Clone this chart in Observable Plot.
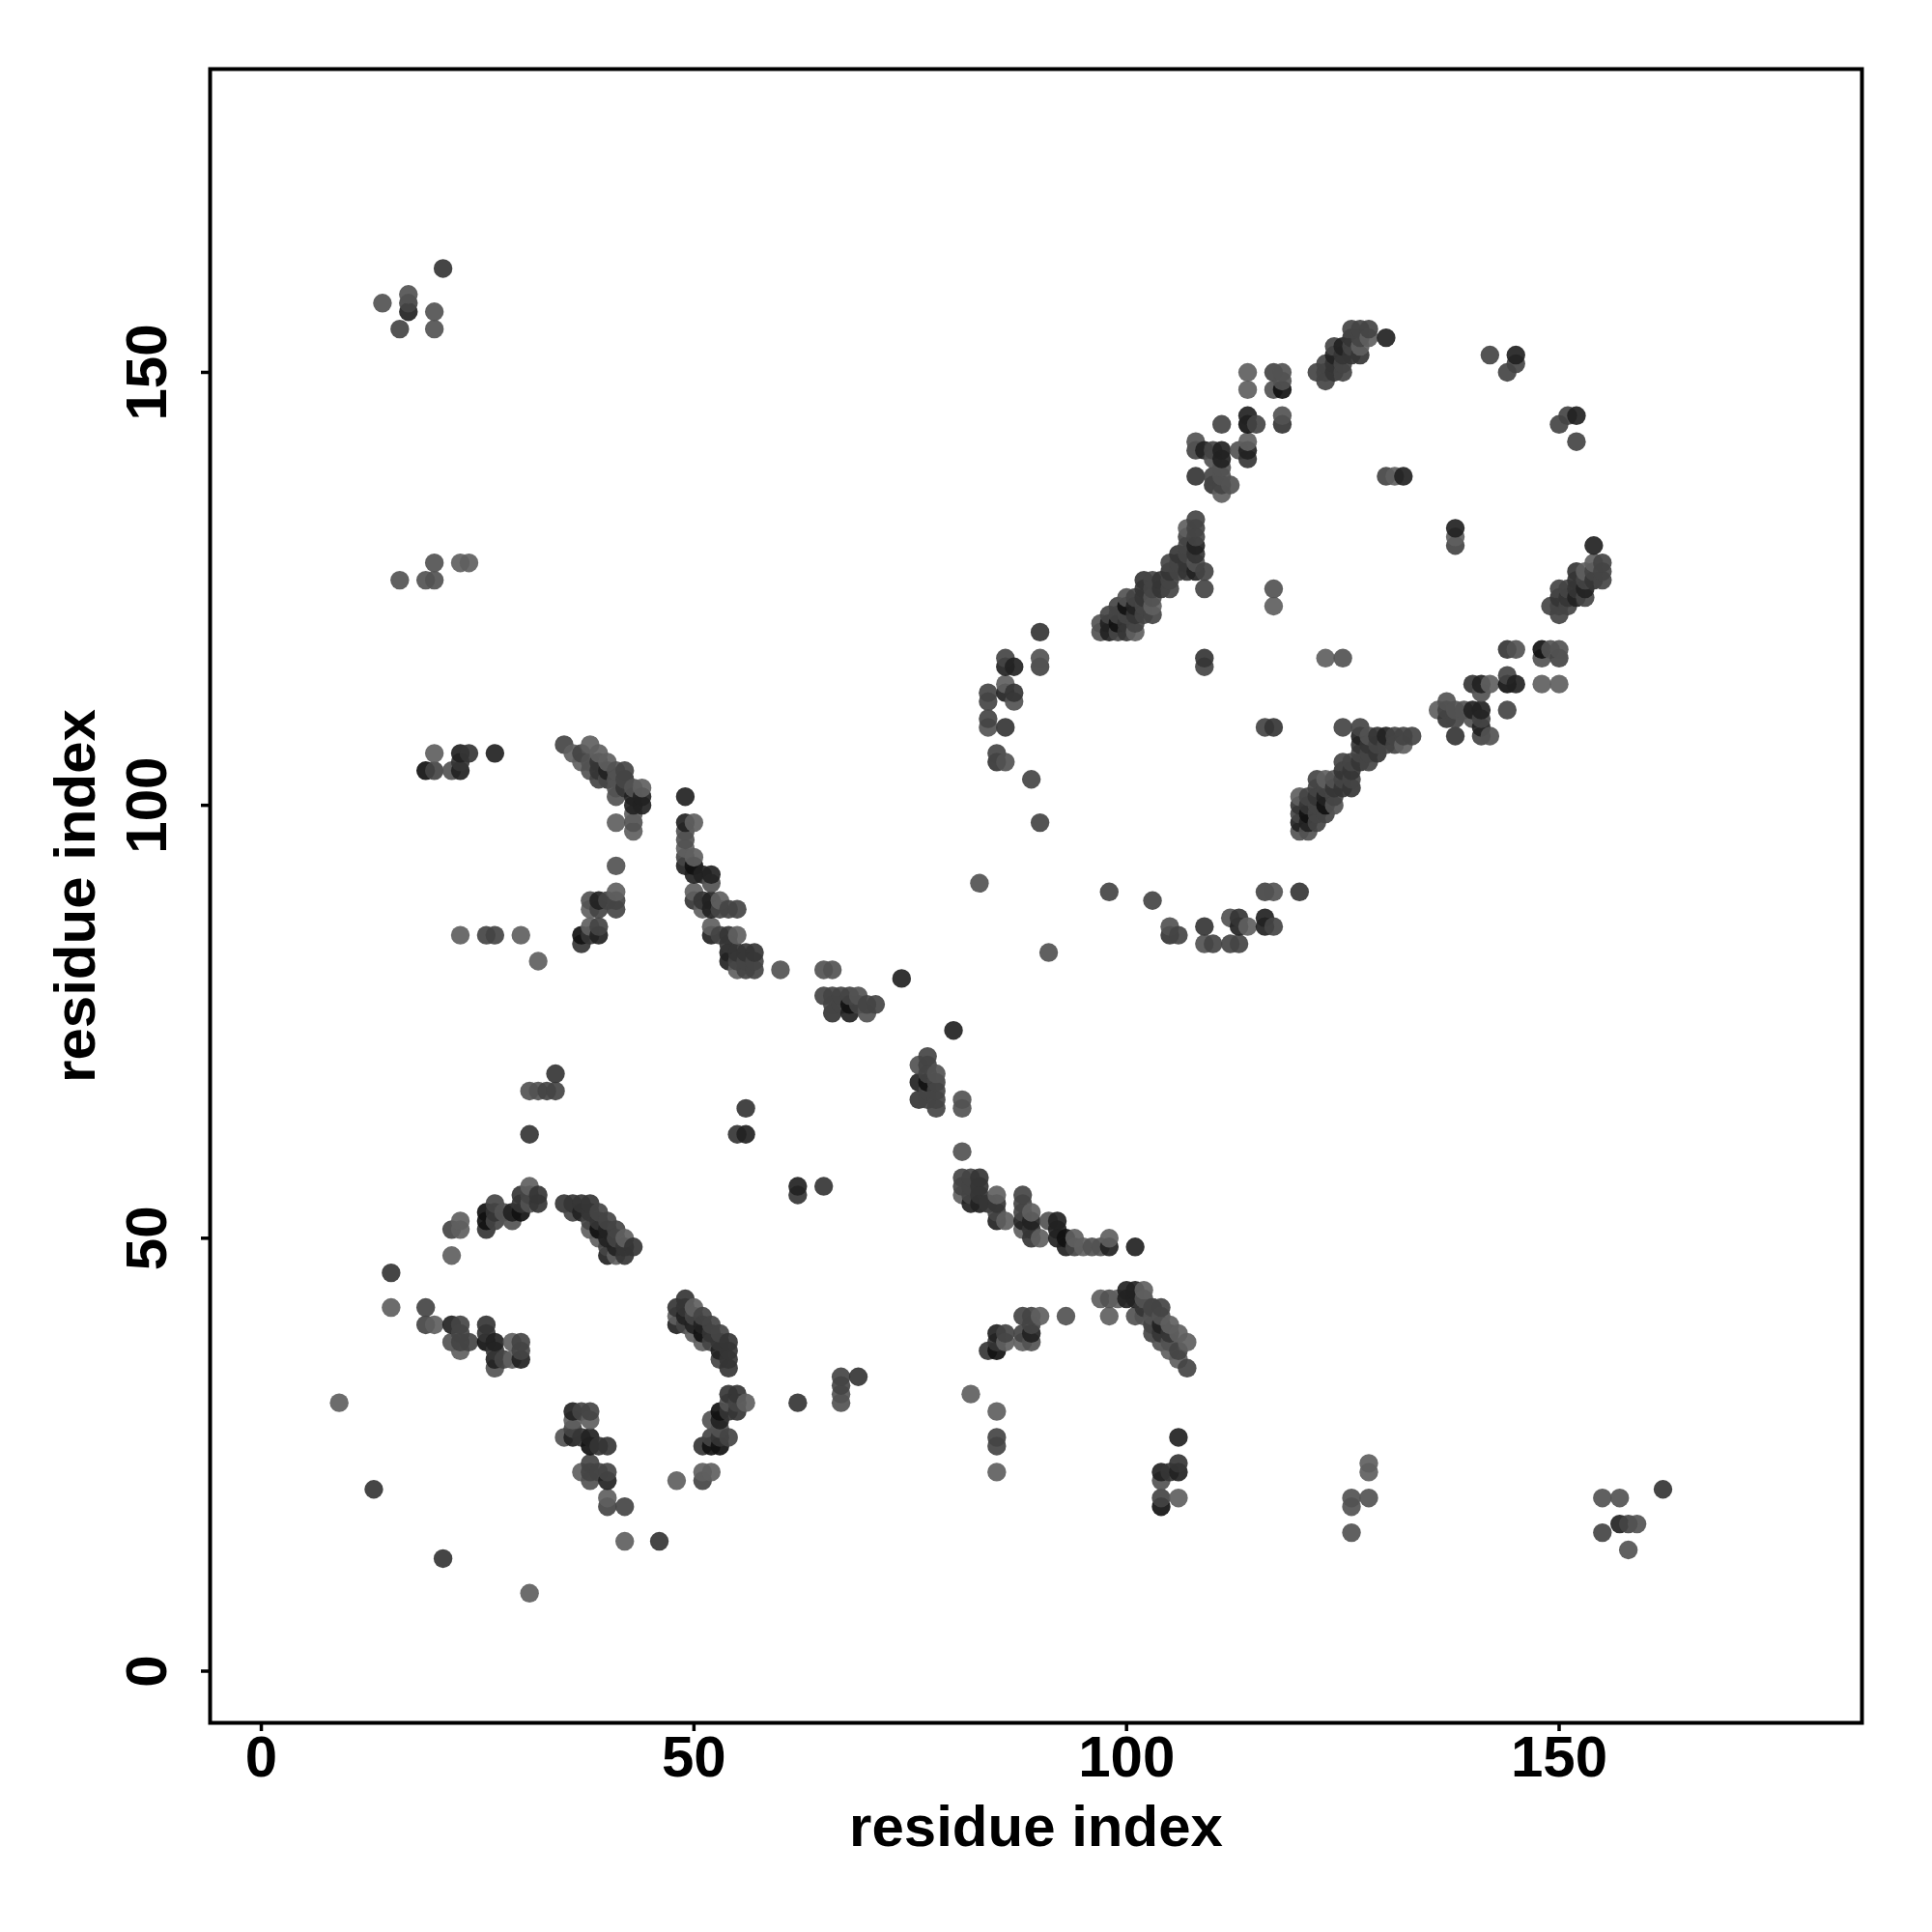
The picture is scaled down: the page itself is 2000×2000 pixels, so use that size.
<!DOCTYPE html>
<html>
<head>
<meta charset="utf-8">
<script src="https://cdn.jsdelivr.net/npm/d3@7"></script>
<script src="https://cdn.jsdelivr.net/npm/@observablehq/plot@0.6"></script>
<style>html,body{margin:0;padding:0;background:#fff}svg{display:block;max-width:none}</style>
</head>
<body>
<div id="chart"></div>
<script>
const tickValues = [0, 50, 100, 150];
const axisTitle = "residue index";
const shades = [1, 2, 3, 4, 5, 6];
const shadeColors = ["#606060", "#535353", "#444444", "#353535", "#222222", "#111111"];

// Residue contact pairs, grouped by darkness of the dot.
const contacts1 = [[20,106],[38,107],[36,106],[39,106],[40,105],[37,105],[43,99],[43,97],[41,98],[41,90],[38,88],[38,86],[23,85],[30,85],[32,82],[50,98],[49,95],[50,94],[50,90],[51,88],[53,89],[52,86],[55,85],[55,81],[38,51],[39,50],[42,50],[41,48],[31,56],[23,52],[23,51],[22,48],[15,42],[20,40],[23,37],[29,38],[29,36],[9,31],[23,128],[24,128],[40,103],[44,102],[86,114],[101,120],[103,123],[107,132],[114,142],[111,136],[114,150],[114,148],[127,153],[128,154],[131,138],[117,123]];
const contacts2 = [[14,158],[17,159],[20,157],[20,155],[20,128],[16,126],[19,126],[20,126],[22,104],[38,105],[38,104],[41,104],[41,103],[42,103],[41,102],[43,102],[41,101],[43,98],[41,93],[38,89],[49,97],[49,96],[52,91],[60,81],[65,81],[66,81],[69,78],[70,76],[31,67],[32,67],[31,54],[29,52],[28,53],[22,38],[27,35],[90,117],[87,112],[84,109],[86,105],[83,91],[97,120],[97,121],[100,124],[108,128],[103,124],[108,142],[110,140],[111,139],[113,141],[111,138],[112,137],[118,145],[118,150],[118,149],[117,148],[117,125]];
const contacts3 = [[17,158],[16,155],[20,104],[35,107],[37,106],[39,103],[40,103],[42,104],[42,103],[39,88],[41,89],[40,89],[39,86],[26,85],[27,85],[49,94],[53,88],[54,88],[55,88],[53,85],[55,82],[56,82],[57,82],[56,81],[57,81],[65,78],[66,78],[67,78],[68,78],[66,77],[67,77],[69,77],[70,77],[71,77],[36,53],[39,53],[38,52],[40,52],[41,51],[41,50],[40,49],[33,67],[34,67],[31,55],[27,54],[27,52],[22,51],[19,42],[19,40],[23,40],[23,39],[23,38],[24,38],[28,36],[30,38],[30,37],[86,117],[90,116],[84,113],[84,112],[84,110],[85,106],[89,103],[90,98],[99,120],[101,121],[103,122],[99,123],[105,125],[105,128],[109,125],[109,127],[108,131],[107,131],[108,132],[108,133],[108,141],[110,141],[110,138],[111,137],[111,144],[115,144],[117,150],[122,150],[123,150],[125,150],[123,149],[123,151],[125,151],[124,153],[126,153],[127,154],[126,155],[127,155],[128,155],[130,138],[142,152],[145,151],[144,150],[109,116],[41,88],[102,122],[100,122],[99,122],[98,122],[102,123],[101,124],[103,125],[105,126],[103,126],[106,127],[106,128],[107,129],[107,130]];
const contacts4 = [[21,162],[24,106],[23,105],[39,105],[39,104],[42,102],[37,84],[50,89],[51,89],[54,85],[54,84],[55,83],[56,83],[57,83],[66,76],[35,54],[36,54],[37,54],[38,54],[38,53],[39,52],[42,49],[43,49],[42,48],[34,69],[31,62],[30,55],[32,55],[32,54],[30,54],[27,53],[26,51],[15,46],[13,21],[26,40],[26,39],[27,37],[55,62],[56,65],[90,120],[87,113],[86,109],[85,105],[100,121],[100,120],[101,122],[102,124],[104,125],[102,125],[104,126],[102,126],[107,127],[105,127],[107,128],[108,129],[106,129],[109,117],[114,140],[108,138],[110,137],[118,144],[124,150],[124,151],[125,152],[126,152],[127,152],[126,154],[38,85]];
const contacts5 = [[17,157],[23,106],[27,106],[23,104],[40,104],[44,101],[43,101],[43,100],[44,100],[39,89],[39,85],[49,101],[49,98],[49,93],[50,92],[51,92],[52,92],[52,89],[52,88],[52,85],[54,83],[54,82],[74,80],[68,76],[37,53],[40,51],[40,50],[41,49],[40,48],[29,53],[22,40],[27,38],[27,36],[30,36],[56,62],[86,116],[87,116],[86,113],[98,120],[98,121],[101,123],[108,127],[108,130],[109,141],[111,141],[111,140],[114,141],[114,145],[124,152],[125,153],[130,154],[132,138],[145,152]];
const contacts6 = [[19,104],[37,85],[50,93],[68,77],[39,51],[30,53],[26,53],[26,52],[26,38],[99,121],[100,123],[114,144],[118,148]];

const groups = [contacts1, contacts2, contacts3, contacts4, contacts5, contacts6];
const table = d3.sort(
  groups.flatMap((pairs, k) => pairs.flatMap(([a, b]) => [
    {x: a, y: b, shade: shades[k]},
    {x: b, y: a, shade: shades[k]}
  ])),
  d => d.x, d => d.y
);

const chart = Plot.plot({
  width: 2000,
  height: 2000,
  marginLeft: 217,
  marginRight: 73,
  marginTop: 71,
  marginBottom: 217,
  style: {fontFamily: "'Liberation Sans', Arial, sans-serif", fontSize: "60px", fontWeight: "bold", color: "#000", background: "#fff"},
  x: {domain: [-5.92, 185.0]},
  y: {domain: [-5.97, 185.03]},
  color: {type: "ordinal", domain: shades, range: shadeColors},
  marks: [
    Plot.dot(table, {x: "x", y: "y", r: 9.7, fill: "shade", fillOpacity: 0.92, stroke: "none"}),
    Plot.frame({stroke: "#000", strokeWidth: 4}),
    Plot.axisX({ticks: tickValues, tickSize: 9, tickPadding: 4, strokeWidth: 3.5, stroke: "#000", fill: "#000", label: axisTitle, labelAnchor: "center", labelArrow: "none", labelOffset: 127, tickFormat: d => String(d)}),
    Plot.axisY({ticks: tickValues, tickSize: 9, text: null, strokeWidth: 3.5, stroke: "#000", label: null}),
    Plot.axisY({ticks: tickValues, tickSize: 0, tickPadding: 65, fill: "#000", textAnchor: "middle", rotate: -90, label: axisTitle, labelAnchor: "center", labelArrow: "none", labelOffset: 162, tickFormat: d => String(d)})
  ]
});
document.getElementById("chart").appendChild(chart);
</script>
</body>
</html>
